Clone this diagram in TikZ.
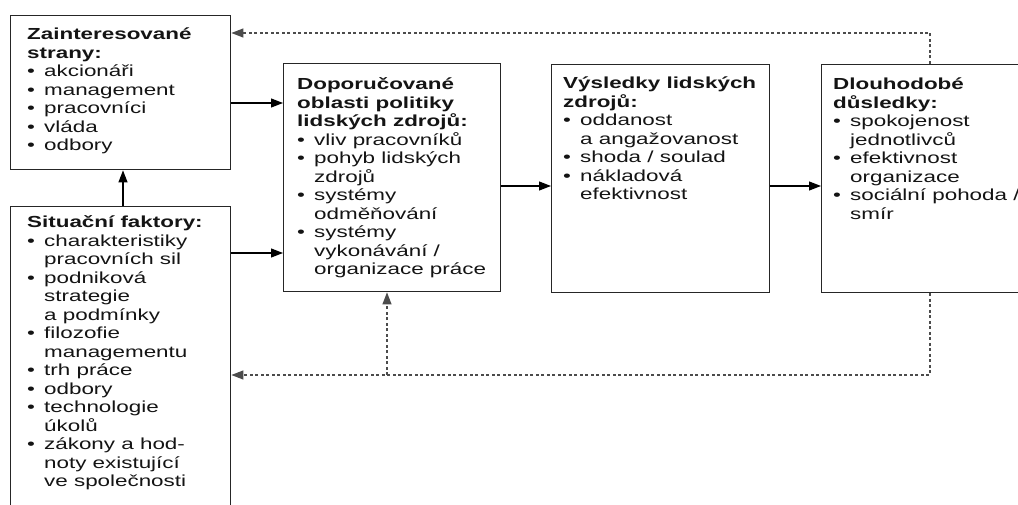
\documentclass[tikz,border=0pt]{standalone}
\usepackage{fontspec}
\setmainfont{Liberation Sans}[FakeStretch=1.4]
\usetikzlibrary{arrows.meta}
\newcommand{\itm}[1]{\makebox[17pt][l]{\textbullet}#1}
\newcommand{\cnt}[1]{\hspace*{17pt}#1}
\newcommand{\txtblock}[1]{\parbox[t]{260pt}{\fontsize{16}{18.5}\selectfont\raggedright #1}}
\begin{document}
\begin{tikzpicture}[x=1pt,y=-1pt,
  box/.style={draw=black!85, line width=1.4pt, inner sep=0pt, anchor=north west},
  txt/.style={anchor=base west, inner sep=0pt, text=black!92},
  arr/.style={line width=1.2pt, -{Triangle[length=12pt,width=9pt]}},
  darr/.style={line width=1.2pt, black!70, dash pattern=on 3pt off 2.5pt, -{Triangle[length=12pt,width=9pt]}}]
\useasboundingbox (0,0) rectangle (1018,505);
\fill[white] (0,0) rectangle (1018,505);
% boxes
\node[box, minimum width=220pt, minimum height=154pt] (z) at (10,15) {};
\node[box, minimum width=220pt, minimum height=330pt] (s) at (10,206) {};
\node[box, minimum width=217pt, minimum height=228pt] (d) at (283,63) {};
\node[box, minimum width=218pt, minimum height=228pt] (v) at (551,64) {};
\node[box, minimum width=240pt, minimum height=228pt] (l) at (821,64) {};
% texts
\node[txt] (tz) at (27,40) {\txtblock{\textbf{Zainteresované}\\ \textbf{strany:}\\
 \itm{akcionáři}\\ \itm{management}\\ \itm{pracovníci}\\ \itm{vláda}\\ \itm{odbory}}};
\node[txt] (ts) at (27,228) {\txtblock{\textbf{Situační faktory:}\\
 \itm{charakteristiky}\\ \cnt{pracovních sil}\\ \itm{podniková}\\ \cnt{strategie}\\ \cnt{a podmínky}\\
 \itm{filozofie}\\ \cnt{managementu}\\ \itm{trh práce}\\ \itm{odbory}\\ \itm{technologie}\\ \cnt{úkolů}\\
 \itm{zákony a hod-}\\ \cnt{noty existující}\\ \cnt{ve společnosti}}};
\node[txt] (td) at (297,90) {\txtblock{\textbf{Doporučované}\\ \textbf{oblasti politiky}\\ \textbf{lidských zdrojů:}\\
 \itm{vliv pracovníků}\\ \itm{pohyb lidských}\\ \cnt{zdrojů}\\ \itm{systémy}\\ \cnt{odměňování}\\
 \itm{systémy}\\ \cnt{vykonávání /}\\ \cnt{organizace práce}}};
\node[txt] (tv) at (563,89) {\txtblock{\textbf{Výsledky lidských}\\ \textbf{zdrojů:}\\
 \itm{oddanost}\\ \cnt{a angažovanost}\\ \itm{shoda / soulad}\\ \itm{nákladová}\\ \cnt{efektivnost}}};
\node[txt] (tl) at (833,90) {\txtblock{\textbf{Dlouhodobé}\\ \textbf{důsledky:}\\
 \itm{spokojenost}\\ \cnt{jednotlivců}\\ \itm{efektivnost}\\ \cnt{organizace}\\ \itm{sociální pohoda /}\\ \cnt{smír}}};
% helper coordinates
\coordinate (y1) at (0,103);
\coordinate (y2) at (0,253);
\coordinate (y3) at (0,186);
\coordinate (xv) at (123,0);
\coordinate (xt) at (930,0);
\coordinate (yt) at (0,33);
\coordinate (yb) at (0,375);
\coordinate (xd) at (387,0);
\coordinate (j) at (xd|-yb);
% solid arrows
\draw[arr] (z.east|-y1) -- (d.west|-y1);
\draw[arr] (s.east|-y2) -- (d.west|-y2);
\draw[arr] (d.east|-y3) -- (v.west|-y3);
\draw[arr] (v.east|-y3) -- (l.west|-y3);
\draw[arr] (s.north-|xv) -- (z.south-|xv);
% dashed feedback
\draw[darr] (l.north-|xt) -- (xt|-yt) -- (z.east|-yt);
\draw[darr] (l.south-|xt) -- (xt|-yb) -- (s.east|-yb);
\draw[darr] (j) -- (d.south-|xd);
\end{tikzpicture}
\end{document}
